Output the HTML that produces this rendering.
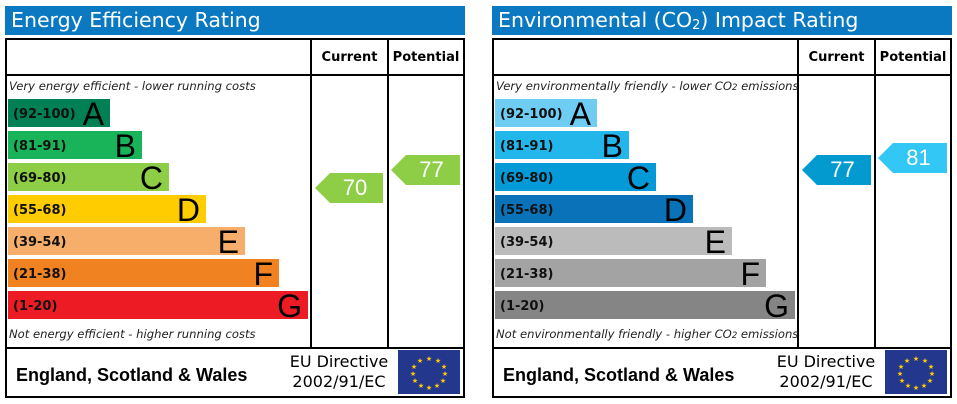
<!DOCTYPE html><html><head><style>
body{margin:0;width:957px;height:404px;background:#fff;position:relative;overflow:hidden;font-family:"DejaVu Sans","Liberation Sans",sans-serif}
div{position:absolute;box-sizing:border-box}
.t{background:#0a79c2;color:#fff;font-size:20.5px;height:29px;top:6px;width:460px;padding-left:6px;line-height:29px}
.bx{border:2px solid #000;top:38px;width:460px;height:360px}
.vl{background:#000;width:2px;top:38px;height:311px}
.hl{background:#000;height:2px}
.hd{top:50px;font-size:13px;font-weight:bold;text-align:center}
.it{font-style:italic;font-size:11.6px;color:#222}
.bar{left:8px;height:28px}
.bar span{position:absolute;left:5px;top:8px;font-size:13px;font-weight:bold;color:#111}
.bar b{position:absolute;right:6px;top:0;font-size:32px;font-weight:normal;font-family:"Liberation Sans",sans-serif;line-height:31px;color:#000}
.ar{height:30px;color:#fff;font-family:"Liberation Sans",sans-serif;font-size:22px;line-height:30px;text-align:center;padding-left:12px;clip-path:polygon(0 50%,15px 0,100% 0,100% 100%,15px 100%)}
.ft{top:365px;font-size:18px;font-weight:bold;font-family:"Liberation Sans",sans-serif}
.eu{font-size:16px;text-align:center;line-height:20px;top:352px}
.flag{top:350px;width:62px;height:44px;background:#23388c}
</style></head><body>

<div style="left:0;top:0;width:470px;height:404px">
<div class="t" style="left:5px">Energy Efficiency Rating</div>
<div class="bx" style="left:5px"></div>
<div class="vl" style="left:310px"></div><div class="vl" style="left:387px"></div>
<div class="hl" style="left:5px;top:74px;width:460px"></div>
<div class="hl" style="left:5px;top:347px;width:460px"></div>
<div class="hd" style="left:312px;width:75px">Current</div>
<div class="hd" style="left:389px;width:74px">Potential</div>
<div class="it" style="left:9px;top:79px">Very energy efficient - lower running costs</div>
<div class="bar" style="top:99px;width:102px;background:#008054"><span>(92-100)</span><b>A</b></div>
<div class="bar" style="top:131px;width:134px;background:#19b459"><span>(81-91)</span><b>B</b></div>
<div class="bar" style="top:163px;width:161px;background:#8dce46"><span>(69-80)</span><b>C</b></div>
<div class="bar" style="top:195px;width:198px;background:#ffcc00"><span>(55-68)</span><b>D</b></div>
<div class="bar" style="top:227px;width:237px;background:#f7ae6b"><span>(39-54)</span><b>E</b></div>
<div class="bar" style="top:259px;width:271px;background:#f08221"><span>(21-38)</span><b>F</b></div>
<div class="bar" style="top:291px;width:300px;background:#ed1c24"><span>(1-20)</span><b>G</b></div>
<div class="it" style="left:9px;top:327px">Not energy efficient - higher running costs</div>
<div class="ar" style="left:315px;top:173px;width:68px;background:#8dce46">70</div>
<div class="ar" style="left:391px;top:155px;width:69px;background:#8dce46">77</div>
<div class="ft" style="left:16px">England, Scotland &amp; Wales</div>
<div class="eu" style="left:286px;width:106px">EU Directive<br>2002/91/EC</div>
<div class="flag" style="left:398px"><svg width="62" height="44"><g fill="#fc0" font-size="7" text-anchor="middle"><text x="31" y="11">★</text><text x="40" y="13">★</text><text x="46" y="19">★</text><text x="47" y="26">★</text><text x="45" y="33">★</text><text x="39" y="38">★</text><text x="31" y="40">★</text><text x="23" y="38">★</text><text x="17" y="33">★</text><text x="15" y="26">★</text><text x="16" y="19">★</text><text x="22" y="13">★</text></g></svg></div>
</div>

<div style="left:487px;top:0;width:470px;height:404px">
<div class="t" style="left:5px">Environmental (CO<sub style="font-size:13px;vertical-align:-2px">2</sub>) Impact Rating</div>
<div class="bx" style="left:5px"></div>
<div class="vl" style="left:310px"></div><div class="vl" style="left:387px"></div>
<div class="hl" style="left:5px;top:74px;width:460px"></div>
<div class="hl" style="left:5px;top:347px;width:460px"></div>
<div class="hd" style="left:312px;width:75px">Current</div>
<div class="hd" style="left:389px;width:74px">Potential</div>
<div class="it" style="left:9px;top:79px">Very environmentally friendly - lower CO<span style="font-size:8.5px">2</span> emissions</div>
<div class="bar" style="top:99px;width:102px;background:#6fcdf3"><span>(92-100)</span><b>A</b></div>
<div class="bar" style="top:131px;width:134px;background:#22b6ea"><span>(81-91)</span><b>B</b></div>
<div class="bar" style="top:163px;width:161px;background:#039ad7"><span>(69-80)</span><b>C</b></div>
<div class="bar" style="top:195px;width:198px;background:#0a72b8"><span>(55-68)</span><b>D</b></div>
<div class="bar" style="top:227px;width:237px;background:#bbbbbc"><span>(39-54)</span><b>E</b></div>
<div class="bar" style="top:259px;width:271px;background:#a3a3a4"><span>(21-38)</span><b>F</b></div>
<div class="bar" style="top:291px;width:300px;background:#858586"><span>(1-20)</span><b>G</b></div>
<div class="it" style="left:9px;top:327px">Not environmentally friendly - higher CO<span style="font-size:8.5px">2</span> emissions</div>
<div class="ar" style="left:315px;top:155px;width:69px;background:#039ad0">77</div>
<div class="ar" style="left:391px;top:143px;width:69px;background:#33c7f5">81</div>
<div class="ft" style="left:16px">England, Scotland &amp; Wales</div>
<div class="eu" style="left:286px;width:106px">EU Directive<br>2002/91/EC</div>
<div class="flag" style="left:398px"><svg width="62" height="44"><g fill="#fc0" font-size="7" text-anchor="middle"><text x="31" y="11">★</text><text x="40" y="13">★</text><text x="46" y="19">★</text><text x="47" y="26">★</text><text x="45" y="33">★</text><text x="39" y="38">★</text><text x="31" y="40">★</text><text x="23" y="38">★</text><text x="17" y="33">★</text><text x="15" y="26">★</text><text x="16" y="19">★</text><text x="22" y="13">★</text></g></svg></div>
</div>
</body></html>
